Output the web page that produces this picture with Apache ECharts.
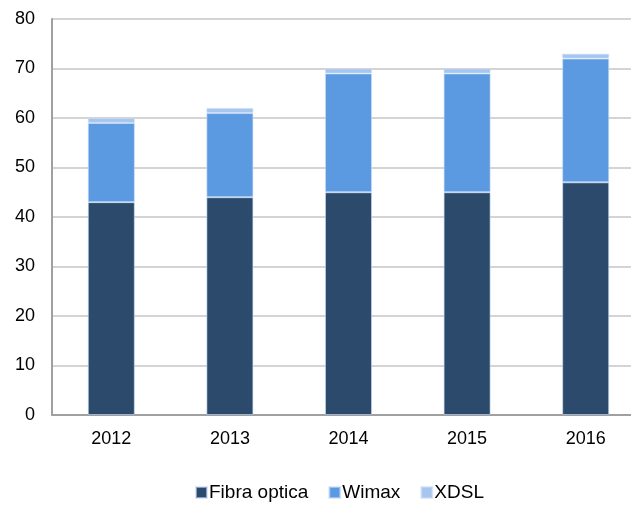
<!DOCTYPE html>
<html>
<head>
<meta charset="utf-8">
<script src="https://cdn.jsdelivr.net/npm/echarts@6/dist/echarts.min.js"></script>
<style>
  html, body { margin: 0; padding: 0; background: #fff; overflow: hidden; }
  #chart { width: 645px; height: 505px; }
</style>
</head>
<body>
<div id="chart"></div>
<script>
var years = ['2012', '2013', '2014', '2015', '2016']
var fibraOptica = [43, 44, 45, 45, 47]
var wimax = [16, 17, 24, 24, 25]
var xdsl = [1, 1, 1, 1, 1]
var yTicks = [0, 10, 20, 30, 40, 50, 60, 70, 80]

var chart = echarts.init(document.getElementById('chart'))
var font = 'Liberation Sans, Arial, sans-serif'

function barSeries(name, data, color) {
  return {
    name: name,
    type: 'bar',
    stack: 'total',
    barWidth: 47,
    data: data,
    itemStyle: { color: color, borderColor: 'rgba(200,220,250,0.6)', borderWidth: 1 }
  }
}

chart.setOption({
  backgroundColor: '#fff',
  animation: false,
  grid: { left: 52, right: 0, top: 19, bottom: 90 },
  legend: {
    top: 478,
    left: 190,
    icon: 'rect',
    itemWidth: 11,
    itemHeight: 11,
    itemGap: 20,
    textStyle: { fontFamily: font, fontSize: 19, color: '#000', padding: [0, 0, 0, -3] },
    data: ['Fibra optica', 'Wimax', 'XDSL']
  },
  xAxis: {
    type: 'category',
    data: years,
    axisLine: { lineStyle: { color: '#a0a0a0', width: 2 } },
    axisTick: { show: false },
    axisLabel: { margin: 15, fontFamily: font, fontSize: 18, color: '#000' }
  },
  yAxis: {
    type: 'value',
    min: yTicks[0],
    max: yTicks[yTicks.length - 1],
    interval: 10,
    axisLine: { show: true, lineStyle: { color: '#a0a0a0', width: 2 } },
    axisTick: { show: false },
    splitLine: { lineStyle: { color: '#d4d4d4', width: 2 } },
    axisLabel: { margin: 17, fontFamily: font, fontSize: 18, color: '#000' }
  },
  series: [
    barSeries('Fibra optica', fibraOptica, '#2c4a6c'),
    barSeries('Wimax', wimax, '#5b9ae0'),
    barSeries('XDSL', xdsl, '#a6c6ee')
  ]
})
</script>
</body>
</html>
